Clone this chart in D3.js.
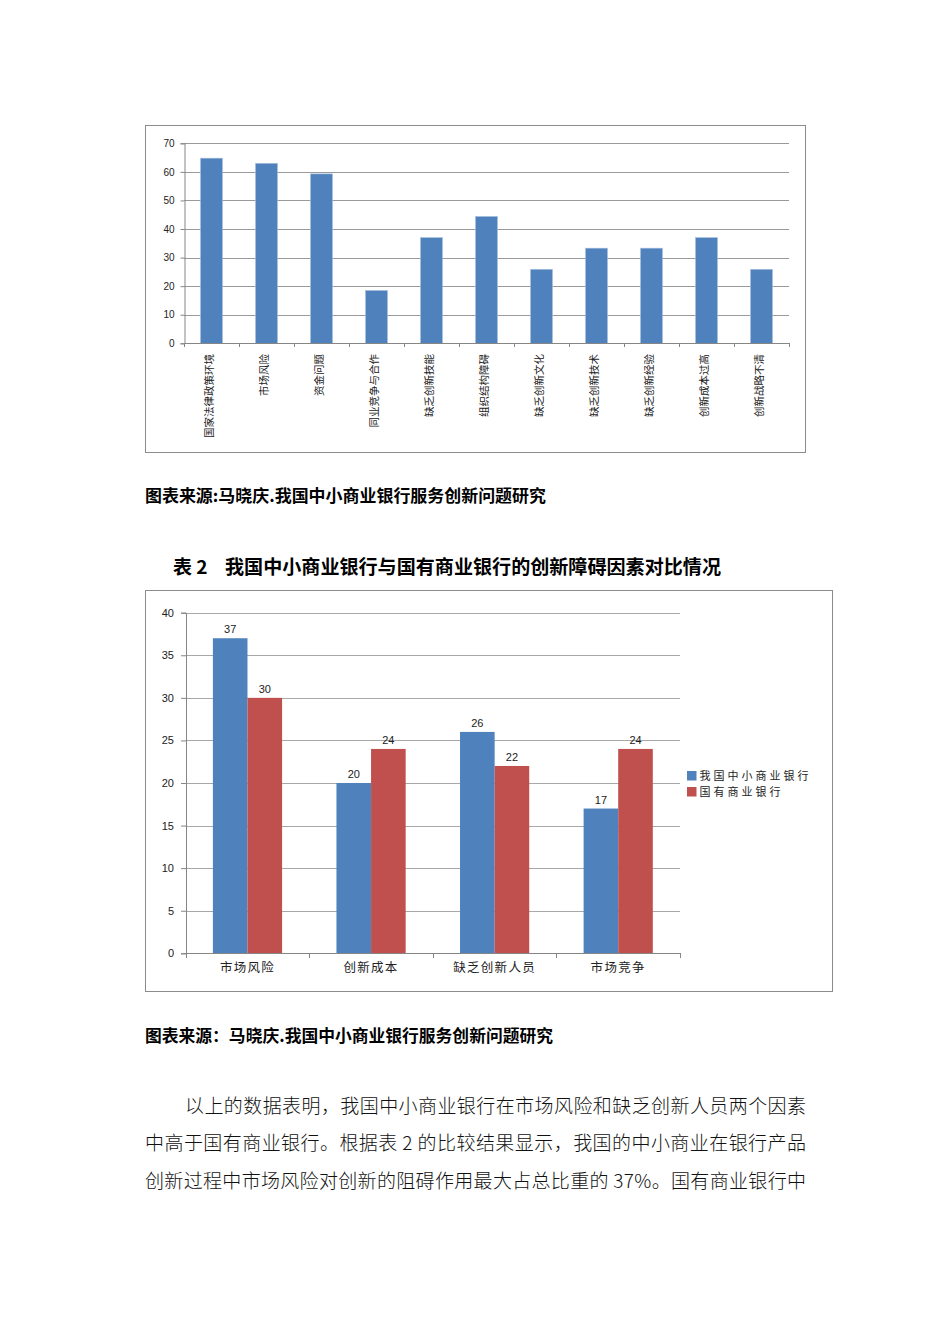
<!DOCTYPE html>
<html>
<head>
<meta charset="utf-8">
<script src="https://cdn.jsdelivr.net/npm/d3@7"></script>
<style>
  html, body { margin: 0; padding: 0; background: #fff; }
  svg { display: block; }
</style>
</head>
<body>
<svg id="page" width="950" height="1344"></svg>
<script>
// ---------- DATA ----------
const chart1Categories = ["国家法律政策环境", "市场风险", "资金问题", "同业竞争与合作", "缺乏创新技能", "组织结构障碍", "缺乏创新文化", "缺乏创新技术", "缺乏创新经验", "创新成本过高", "创新战略不清"];
const chart1Values = [64.8, 63.0, 59.3, 18.5, 37.0, 44.4, 25.9, 33.3, 33.3, 37.0, 25.9];
const chart1Ticks = [0, 10, 20, 30, 40, 50, 60, 70];

const chart2Categories = ["市场风险", "创新成本", "缺乏创新人员", "市场竞争"];
const chart2Series = ["我国中小商业银行", "国有商业银行"];
const chart2Small = [37, 20, 26, 17];
const chart2State = [30, 24, 22, 24];
const chart2Ticks = [0, 5, 10, 15, 20, 25, 30, 35, 40];

const caption1 = "图表来源:马晓庆.我国中小商业银行服务创新问题研究";
const caption2 = "图表来源：马晓庆.我国中小商业银行服务创新问题研究";
const titleNo = "表 2";
const titleText = "我国中小商业银行与国有商业银行的创新障碍因素对比情况";
const bodyLines = [
  "以上的数据表明，我国中小商业银行在市场风险和缺乏创新人员两个因素",
  "中高于国有商业银行。根据表 2 的比较结果显示，我国的中小商业在银行产品",
  "创新过程中市场风险对创新的阻碍作用最大占总比重的 37%。国有商业银行中"
];

// ---------- STYLE ----------
const BLUE = "#4F81BD", RED = "#C0504D";
const GRID = "#9a9a9a", AXIS = "#868686", FRAME = "#8c8c8c";
const CJK = "'Noto Sans CJK SC', 'Noto Sans', sans-serif";
const LAT = "'Liberation Sans', Arial, sans-serif";

const svg = d3.select("#page");

// ---------- CHART 1 ----------
(function () {
  const g = svg.append("g");
  g.append("rect").attr("x", 145.5).attr("y", 125.5).attr("width", 660).attr("height", 327)
    .attr("fill", "#fff").attr("stroke", FRAME).attr("stroke-width", 1);

  const x = d3.scaleBand().domain(chart1Categories).range([184, 789]).paddingInner(0.6).paddingOuter(0.3);
  const y = d3.scaleLinear().domain([0, 70]).range([343.3, 143.3]);

  g.append("g").selectAll("line").data(chart1Ticks.filter(d => d > 0)).join("line")
    .attr("x1", 184).attr("x2", 789).attr("y1", d => Math.round(y(d)) + 0.5).attr("y2", d => Math.round(y(d)) + 0.5)
    .attr("stroke", GRID).attr("stroke-width", 1);

  g.append("g").selectAll("rect").data(chart1Values).join("rect")
    .attr("x", (d, i) => x(chart1Categories[i]))
    .attr("width", x.bandwidth())
    .attr("y", d => y(d))
    .attr("height", d => y(0) - y(d))
    .attr("fill", BLUE).attr("stroke", "#a9c0de").attr("stroke-width", 0.6);

  const yAxis = d3.axisLeft(y).tickValues(chart1Ticks).tickSize(4).tickPadding(6).tickFormat(d3.format("d"));
  const ya = g.append("g").attr("transform", "translate(184.5,0)").call(yAxis);
  ya.select(".domain").attr("stroke", AXIS);
  ya.selectAll(".tick line").attr("stroke", AXIS);
  ya.selectAll(".tick text").attr("font-family", LAT).attr("font-size", 10).attr("fill", "#222");

  g.append("line").attr("x1", 184).attr("x2", 789).attr("y1", 343.5).attr("y2", 343.5).attr("stroke", AXIS);
  const bounds = d3.range(chart1Categories.length + 1).map(i => 184 + i * x.step());
  g.append("g").selectAll("line").data(bounds).join("line")
    .attr("x1", d => Math.round(d) + 0.5).attr("x2", d => Math.round(d) + 0.5)
    .attr("y1", 343).attr("y2", 347).attr("stroke", AXIS);

  g.append("g").selectAll("text").data(chart1Categories).join("text")
    .attr("transform", d => `translate(${x(d) + x.bandwidth() / 2},354) rotate(-90)`)
    .attr("text-anchor", "end").attr("dy", "0.1em")
    .attr("font-family", CJK).attr("font-size", 10.5).attr("fill", "#222")
    .text(d => d);
})();

// ---------- CAPTION 1 ----------
svg.append("text").attr("x", 145).attr("y", 502).attr("font-family", CJK).attr("font-weight", "bold")
  .attr("font-size", 16.5).attr("textLength", 401).attr("lengthAdjust", "spacingAndGlyphs")
  .attr("fill", "#000").text(caption1);

// ---------- TITLE ----------
svg.append("text").attr("x", 173).attr("y", 574).attr("font-family", CJK).attr("font-weight", "bold")
  .attr("font-size", 19).attr("fill", "#000").text(titleNo);
svg.append("text").attr("x", 225).attr("y", 574).attr("font-family", CJK).attr("font-weight", "bold")
  .attr("font-size", 19).attr("textLength", 496).attr("lengthAdjust", "spacingAndGlyphs")
  .attr("fill", "#000").text(titleText);

// ---------- CHART 2 ----------
(function () {
  const g = svg.append("g");
  g.append("rect").attr("x", 145.5).attr("y", 590.5).attr("width", 687).attr("height", 401)
    .attr("fill", "#fff").attr("stroke", FRAME).attr("stroke-width", 1);

  const x0 = d3.scaleBand().domain(chart2Categories).range([185.7, 680]).paddingInner(0.44).paddingOuter(0.22);
  const x1 = d3.scaleBand().domain(chart2Series).range([0, x0.bandwidth()]);
  const y = d3.scaleLinear().domain([0, 40]).range([953.3, 612.7]);

  g.append("g").selectAll("line").data(chart2Ticks.filter(d => d > 0)).join("line")
    .attr("x1", 185.7).attr("x2", 680).attr("y1", d => Math.round(y(d)) + 0.5).attr("y2", d => Math.round(y(d)) + 0.5)
    .attr("stroke", "#a8a8a8").attr("stroke-width", 1);

  const rows = chart2Categories.map((c, i) => ({ cat: c, vals: [chart2Small[i], chart2State[i]] }));
  const colors = [BLUE, RED];
  const groups = g.append("g").selectAll("g").data(rows).join("g")
    .attr("transform", d => `translate(${x0(d.cat)},0)`);
  groups.selectAll("rect").data(d => d.vals.map((v, j) => ({ s: chart2Series[j], v, j }))).join("rect")
    .attr("x", d => x1(d.s)).attr("width", x1.bandwidth())
    .attr("y", d => y(d.v)).attr("height", d => y(0) - y(d.v))
    .attr("fill", d => colors[d.j]);
  groups.selectAll("text").data(d => d.vals.map((v, j) => ({ s: chart2Series[j], v, j }))).join("text")
    .attr("x", d => x1(d.s) + x1.bandwidth() / 2).attr("y", d => y(d.v) - 5)
    .attr("text-anchor", "middle").attr("font-family", LAT).attr("font-size", 11).attr("fill", "#222")
    .text(d => d.v);

  const yAxis = d3.axisLeft(y).tickValues(chart2Ticks).tickSize(5).tickPadding(7).tickFormat(d3.format("d"));
  const ya = g.append("g").attr("transform", "translate(186,0)").call(yAxis);
  ya.select(".domain").attr("stroke", AXIS);
  ya.selectAll(".tick line").attr("stroke", AXIS);
  ya.selectAll(".tick text").attr("font-family", LAT).attr("font-size", 11).attr("fill", "#222");

  g.append("line").attr("x1", 185.7).attr("x2", 680).attr("y1", 953.5).attr("y2", 953.5).attr("stroke", AXIS);
  const bounds = d3.range(chart2Categories.length + 1).map(i => 185.7 + i * x0.step());
  g.append("g").selectAll("line").data(bounds).join("line")
    .attr("x1", d => Math.round(d) + 0.5).attr("x2", d => Math.round(d) + 0.5)
    .attr("y1", 953).attr("y2", 958).attr("stroke", AXIS);

  g.append("g").selectAll("text").data(chart2Categories).join("text")
    .attr("x", d => x0(d) + x0.bandwidth() / 2).attr("y", 972)
    .attr("text-anchor", "middle").attr("font-family", CJK).attr("font-size", 12.5)
    .attr("letter-spacing", 1.3).attr("fill", "#222").text(d => d);

  // legend
  const lg = g.append("g").selectAll("g").data(chart2Series).join("g")
    .attr("transform", (d, i) => `translate(687,${771 + i * 16})`);
  lg.append("rect").attr("width", 9.5).attr("height", 9.5).attr("fill", (d, i) => colors[i]);
  lg.append("text").attr("x", 12.5).attr("y", 9.2).attr("font-family", CJK).attr("font-size", 11)
    .attr("letter-spacing", 3).attr("fill", "#222").text(d => d);
})();

// ---------- CAPTION 2 ----------
svg.append("text").attr("x", 145).attr("y", 1042).attr("font-family", CJK).attr("font-weight", "bold")
  .attr("font-size", 16.5).attr("textLength", 408).attr("lengthAdjust", "spacingAndGlyphs")
  .attr("fill", "#000").text(caption2);

// ---------- BODY TEXT ----------
const bodyStarts = [185, 145, 145];
const bodyBase = [1113, 1150, 1188];
bodyLines.forEach((t, i) => {
  svg.append("text").attr("x", bodyStarts[i]).attr("y", bodyBase[i])
    .attr("font-family", CJK).attr("font-size", 19).attr("font-weight", 300)
    .attr("textLength", 806 - bodyStarts[i]).attr("lengthAdjust", "spacing")
    .attr("fill", "#111").text(t);
});
</script>
</body>
</html>
